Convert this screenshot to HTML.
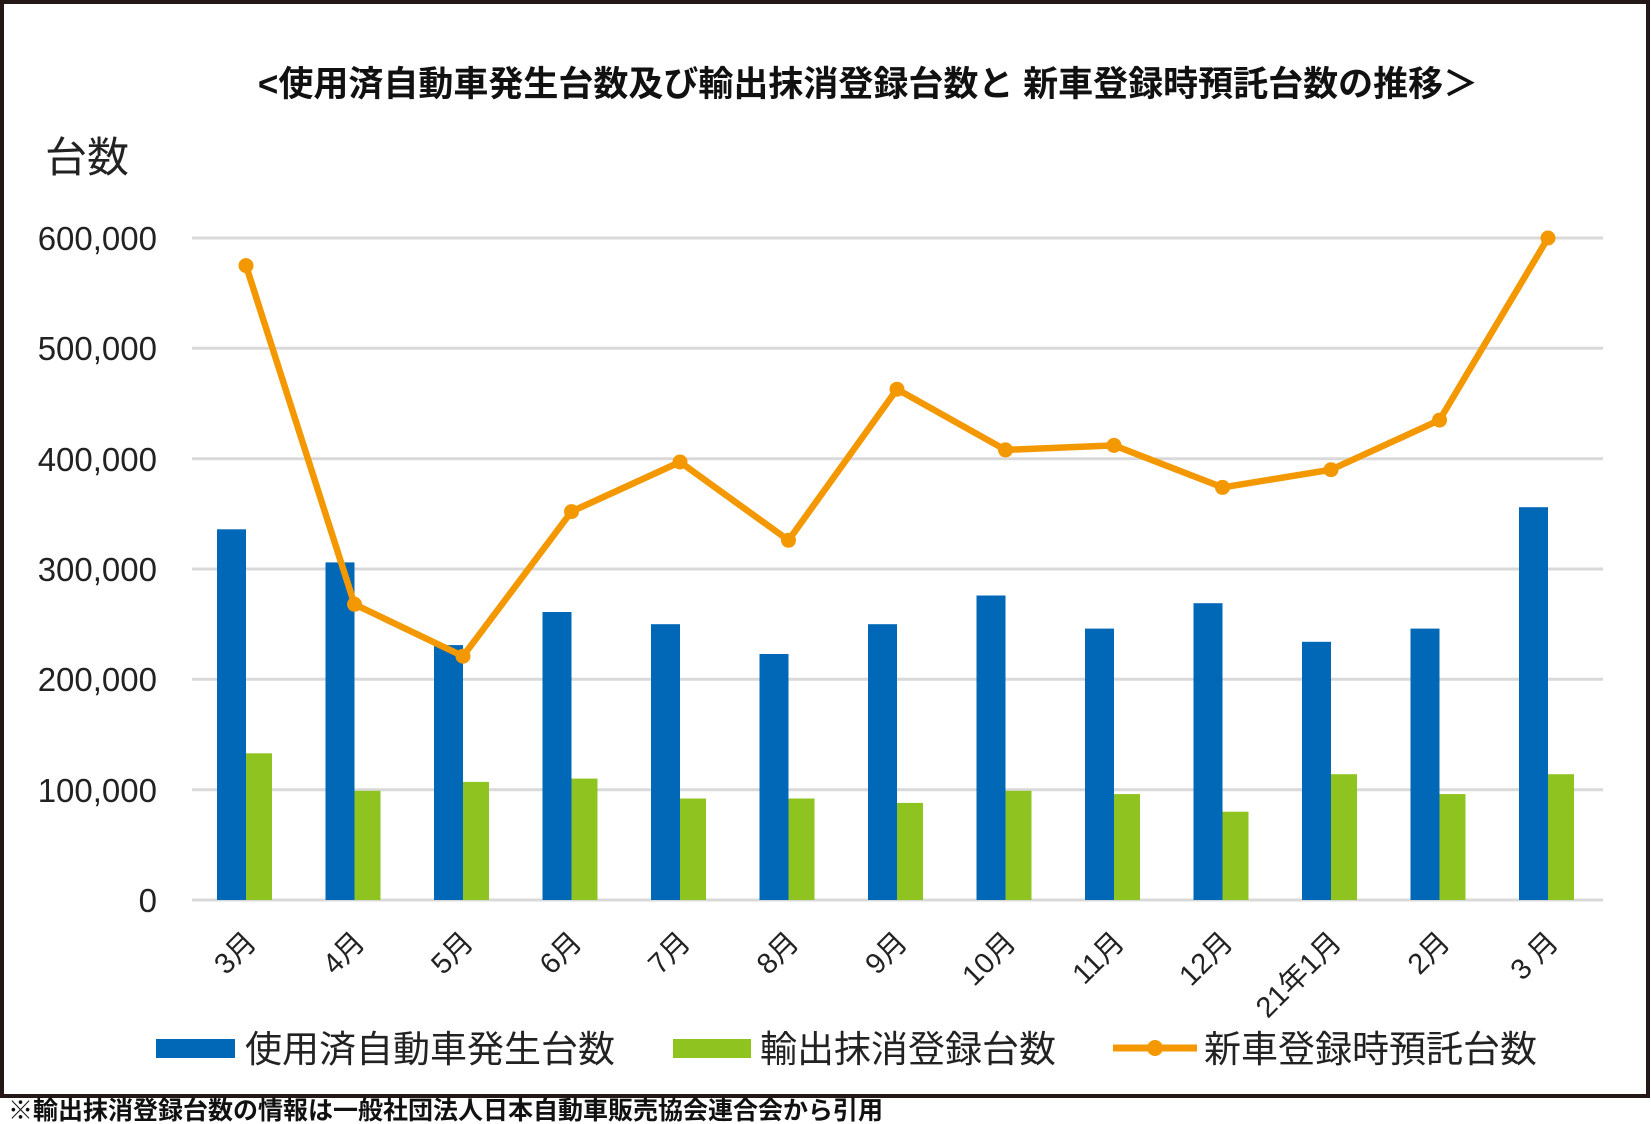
<!DOCTYPE html>
<html><head><meta charset="utf-8"><style>
html,body{margin:0;padding:0;background:#fff;}
svg{display:block;font-family:"Liberation Sans","Noto Sans CJK JP",sans-serif;}
</style></head><body>
<svg width="1651" height="1124" viewBox="0 0 1651 1124" xmlns="http://www.w3.org/2000/svg">
<rect x="2" y="2" width="1646" height="1094" fill="#fff" stroke="#231815" stroke-width="4"/>
<text x="868" y="96" text-anchor="middle" font-size="35" font-weight="bold" fill="#111">&lt;使用済自動車発生台数及び輸出抹消登録台数と 新車登録時預託台数の推移＞</text>
<text x="45" y="172" font-size="42" fill="#222">台数</text>
<g stroke="#d9d9d9" stroke-width="3">
<line x1="192" x2="1603" y1="238" y2="238"/><line x1="192" x2="1603" y1="348.3" y2="348.3"/>
<line x1="192" x2="1603" y1="458.7" y2="458.7"/><line x1="192" x2="1603" y1="569" y2="569"/>
<line x1="192" x2="1603" y1="679.3" y2="679.3"/><line x1="192" x2="1603" y1="789.7" y2="789.7"/>
<line x1="192" x2="1603" y1="900" y2="900"/>
</g>
<g font-size="33" fill="#222" text-anchor="end">
<text x="157" y="250">600,000</text><text x="157" y="360">500,000</text><text x="157" y="471">400,000</text>
<text x="157" y="581">300,000</text><text x="157" y="691">200,000</text><text x="157" y="802">100,000</text><text x="157" y="912">0</text>
</g>
<g fill="#0068b7">
<rect x="217" y="529.3" width="29" height="370.7"/>
<rect x="325.5" y="562.4" width="29" height="337.6"/>
<rect x="434" y="645.1" width="29" height="254.9"/>
<rect x="542.5" y="612" width="29" height="288"/>
<rect x="651" y="624.2" width="29" height="275.8"/>
<rect x="759.5" y="654" width="29" height="246"/>
<rect x="868" y="624.2" width="29" height="275.8"/>
<rect x="976.5" y="595.5" width="29" height="304.5"/>
<rect x="1085" y="628.6" width="29" height="271.4"/>
<rect x="1193.5" y="603.2" width="29" height="296.8"/>
<rect x="1302" y="641.8" width="29" height="258.2"/>
<rect x="1410.5" y="628.6" width="29" height="271.4"/>
<rect x="1519" y="507.2" width="29" height="392.8"/>
</g>
<g fill="#8fc31f">
<rect x="246" y="753.3" width="26" height="146.7"/>
<rect x="354.5" y="790.8" width="26" height="109.2"/>
<rect x="463" y="781.9" width="26" height="118.1"/>
<rect x="571.5" y="778.6" width="26" height="121.4"/>
<rect x="680" y="798.5" width="26" height="101.5"/>
<rect x="788.5" y="798.5" width="26" height="101.5"/>
<rect x="897" y="802.9" width="26" height="97.1"/>
<rect x="1005.5" y="790.8" width="26" height="109.2"/>
<rect x="1114" y="794.1" width="26" height="105.9"/>
<rect x="1222.5" y="811.7" width="26" height="88.3"/>
<rect x="1331" y="774.2" width="26" height="125.8"/>
<rect x="1439.5" y="794.1" width="26" height="105.9"/>
<rect x="1548" y="774.2" width="26" height="125.8"/>
</g>
<polyline points="246,265.6 354.5,604.3 463,656.2 571.5,511.6 680,462 788.5,540.3 897,389.2 1005.5,449.9 1114,445.4 1222.5,487.4 1331,469.7 1439.5,420.1 1548,238" fill="none" stroke="#f39800" stroke-width="6.5" stroke-linejoin="round"/>
<g fill="#f39800">
<circle cx="246" cy="265.6" r="7.5"/><circle cx="354.5" cy="604.3" r="7.5"/><circle cx="463" cy="656.2" r="7.5"/>
<circle cx="571.5" cy="511.6" r="7.5"/><circle cx="680" cy="462" r="7.5"/><circle cx="788.5" cy="540.3" r="7.5"/>
<circle cx="897" cy="389.2" r="7.5"/><circle cx="1005.5" cy="449.9" r="7.5"/><circle cx="1114" cy="445.4" r="7.5"/>
<circle cx="1222.5" cy="487.4" r="7.5"/><circle cx="1331" cy="469.7" r="7.5"/><circle cx="1439.5" cy="420.1" r="7.5"/>
<circle cx="1548" cy="238" r="7.5"/>
</g>
<g font-size="29" fill="#222" text-anchor="end">
<text x="258" y="944" transform="rotate(-45 258 944)">3月</text>
<text x="366.5" y="944" transform="rotate(-45 366.5 944)">4月</text>
<text x="475" y="944" transform="rotate(-45 475 944)">5月</text>
<text x="583.5" y="944" transform="rotate(-45 583.5 944)">6月</text>
<text x="692" y="944" transform="rotate(-45 692 944)">7月</text>
<text x="800.5" y="944" transform="rotate(-45 800.5 944)">8月</text>
<text x="909" y="944" transform="rotate(-45 909 944)">9月</text>
<text x="1017.5" y="944" transform="rotate(-45 1017.5 944)">10月</text>
<text x="1126" y="944" transform="rotate(-45 1126 944)">11月</text>
<text x="1234.5" y="944" transform="rotate(-45 1234.5 944)">12月</text>
<text x="1343" y="944" transform="rotate(-45 1343 944)">21年1月</text>
<text x="1451.5" y="944" transform="rotate(-45 1451.5 944)">2月</text>
<text x="1560" y="944" transform="rotate(-45 1560 944)">3 月</text>
</g>
<rect x="156" y="1039" width="79" height="19" fill="#0068b7"/>
<text x="245" y="1062" font-size="37" fill="#222">使用済自動車発生台数</text>
<rect x="673" y="1039" width="78" height="19" fill="#8fc31f"/>
<text x="760" y="1062" font-size="37" fill="#222">輸出抹消登録台数</text>
<line x1="1113" x2="1197" y1="1048" y2="1048" stroke="#f39800" stroke-width="7"/>
<circle cx="1155" cy="1048" r="8" fill="#f39800"/>
<text x="1204" y="1062" font-size="37" fill="#222">新車登録時預託台数</text>
<text x="8" y="1119" font-size="25" font-weight="bold" fill="#111">※輸出抹消登録台数の情報は一般社団法人日本自動車販売協会連合会から引用</text>
</svg>
</body></html>
